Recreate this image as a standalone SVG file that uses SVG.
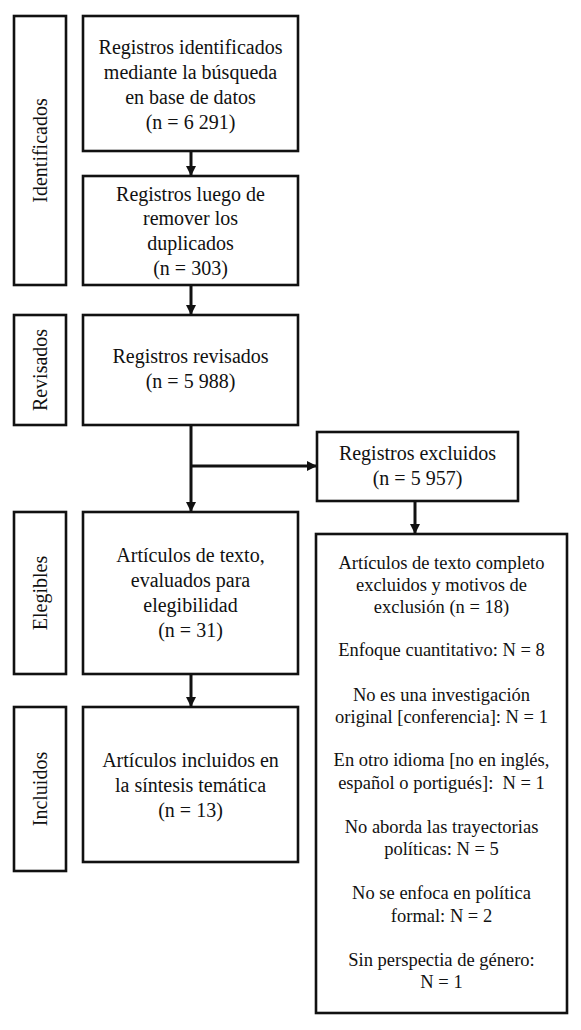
<svg xmlns="http://www.w3.org/2000/svg" width="581" height="1030" viewBox="0 0 581 1030">
<style>
.box{fill:#fff;stroke:#111;stroke-width:2.6}
.t{font-family:"Liberation Serif","DejaVu Serif",serif;font-size:20px;fill:#111;text-anchor:middle}
.s{font-size:18.5px}
.c{stroke:#111;stroke-width:3;fill:none}
</style>
<defs>
<marker id="ah" markerWidth="10" markerHeight="10" refX="9" refY="5" orient="auto" markerUnits="userSpaceOnUse">
<path d="M0,0 L10,5 L0,10 Z" fill="#111"/>
</marker>
</defs>
<rect width="581" height="1030" fill="#fff"/>
<g id="lab-identificados"><rect class="box" x="14" y="16" width="52" height="269"/><text class="t" transform="translate(47,150.5) rotate(-90)">Identificados</text></g>
<g id="lab-revisados"><rect class="box" x="14" y="315" width="52" height="110"/><text class="t" transform="translate(47,370) rotate(-90)">Revisados</text></g>
<g id="lab-elegibles"><rect class="box" x="14" y="512" width="52" height="162"/><text class="t" transform="translate(47,593) rotate(-90)">Elegibles</text></g>
<g id="lab-incluidos"><rect class="box" x="14" y="707" width="52" height="164"/><text class="t" transform="translate(47,789) rotate(-90)">Incluidos</text></g>

<g id="n1"><rect class="box" x="83" y="16" width="215" height="135"/>
<text class="t" x="190.5" y="54">Registros identificados</text>
<text class="t" x="190.5" y="79">mediante la búsqueda</text>
<text class="t" x="190.5" y="104">en base de datos</text>
<text class="t" x="190.5" y="129">(n = 6 291)</text></g>

<g id="n2"><rect class="box" x="83" y="176" width="215" height="109"/>
<text class="t" x="190.5" y="201">Registros luego de</text>
<text class="t" x="190.5" y="225">remover los</text>
<text class="t" x="190.5" y="250">duplicados</text>
<text class="t" x="190.5" y="275">(n = 303)</text></g>

<g id="n3"><rect class="box" x="83" y="315" width="215" height="110"/>
<text class="t" x="190.5" y="363">Registros revisados</text>
<text class="t" x="190.5" y="388">(n = 5 988)</text></g>

<g id="n4"><rect class="box" x="317" y="432" width="201" height="69"/>
<text class="t" x="417.5" y="460">Registros excluidos</text>
<text class="t" x="417.5" y="485">(n = 5 957)</text></g>

<g id="n5"><rect class="box" x="83" y="512" width="215" height="162"/>
<text class="t" x="190.5" y="562">Artículos de texto,</text>
<text class="t" x="190.5" y="587">evaluados para</text>
<text class="t" x="190.5" y="612">elegibilidad</text>
<text class="t" x="190.5" y="637">(n = 31)</text></g>

<g id="n6"><rect class="box" x="83" y="707" width="215" height="155"/>
<text class="t" x="190.5" y="767">Artículos incluidos en</text>
<text class="t" x="190.5" y="792">la síntesis temática</text>
<text class="t" x="190.5" y="817">(n = 13)</text></g>

<g id="n7"><rect class="box" x="316" y="534" width="251" height="479"/>
<g class="t s">
<text class="t s" x="441.5" y="569">Artículos de texto completo</text>
<text class="t s" x="441.5" y="591">excluidos y motivos de</text>
<text class="t s" x="441.5" y="613">exclusión (n = 18)</text>
<text class="t s" x="441.5" y="656">Enfoque cuantitativo: N = 8</text>
<text class="t s" x="441.5" y="701">No es una investigación</text>
<text class="t s" x="441.5" y="723">original [conferencia]: N = 1</text>
<text class="t s" x="441.5" y="766">En otro idioma [no en inglés,</text>
<text class="t s" x="441.5" y="789" xml:space="preserve">español o portigués]:  N = 1</text>
<text class="t s" x="441.5" y="833">No aborda las trayectorias</text>
<text class="t s" x="441.5" y="855">políticas: N = 5</text>
<text class="t s" x="441.5" y="899">No se enfoca en política</text>
<text class="t s" x="441.5" y="922">formal: N = 2</text>
<text class="t s" x="441.5" y="966">Sin perspectia de género:</text>
<text class="t s" x="441.5" y="988">N = 1</text>
</g></g>

<g id="connectors">
<line class="c" x1="191" y1="151" x2="191" y2="175" marker-end="url(#ah)"/>
<line class="c" x1="191" y1="285" x2="191" y2="314" marker-end="url(#ah)"/>
<line class="c" x1="191" y1="425" x2="191" y2="511" marker-end="url(#ah)"/>
<line class="c" x1="191" y1="466" x2="316" y2="466" marker-end="url(#ah)"/>
<line class="c" x1="415" y1="501" x2="415" y2="533" marker-end="url(#ah)"/>
<line class="c" x1="191" y1="674" x2="191" y2="706" marker-end="url(#ah)"/>
</g>
</svg>
